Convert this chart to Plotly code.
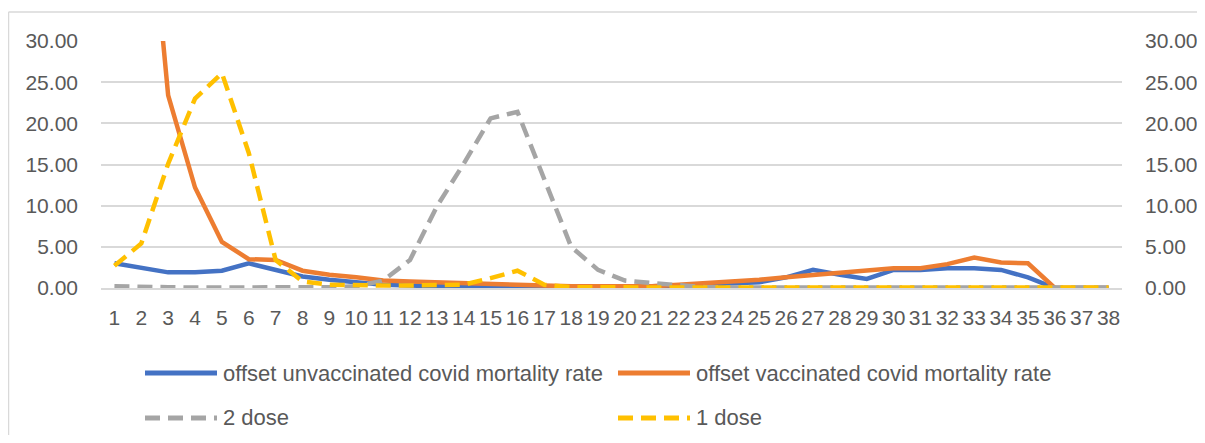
import plotly.graph_objects as go
from plotly.subplots import make_subplots

weeks = list(range(1, 39))

unvaccinated = [3.0, 2.4, 1.9, 1.9, 2.1, 3.0, 2.2, 1.4, 1.0, 0.7, 0.4, 0.3, 0.2, 0.3, 0.1,
                0.1, 0.1, 0.15, 0.2, 0.2, 0.2, 0.3, 0.4, 0.6, 0.7, 1.3, 2.2, 1.6, 1.1, 2.2,
                2.2, 2.4, 2.4, 2.2, 1.3, 0.0, 0.0, 0.0]
vaccinated = [None, 58.0, 23.4, 12.2, 5.6, 3.5, 3.4, 2.1, 1.6, 1.3, 0.9, 0.8, 0.7, 0.6, 0.5,
              0.3, 0.2, 0.2, 0.2, 0.2, 0.2, 0.4, 0.6, 0.7, 1.0, 1.3, 1.6, 1.9, 2.1, 2.4,
              2.4, 2.9, 3.7, 3.1, 3.0, 0.0, 0.0, 0.0]
dose2 = [0.2, 0.2, 0.1, 0.05, 0.05, 0.05, 0.05, 0.1, 0.1, 0.2, 0.9, 3.4, 9.9, 15.1, 20.6,
         21.4, 13.1, 5.0, 2.2, 0.9, 0.6, 0.3, 0.1, 0.05, 0.05, 0.05, 0.05, 0.05, 0.05, 0.05,
         0.05, 0.05, 0.05, 0.05, 0.05, 0.05, 0.05, 0.05]
dose1 = [2.7, 5.4, 15.1, 23.0, 26.1, 16.4, 3.4, 0.8, 0.4, 0.3, 0.3, 0.3, 0.3, 0.4, 1.2,
         2.1, 0.4, 0.1, 0.1, 0.05, 0.05, 0.05, 0.05, 0.05, 0.05, 0.05, 0.05, 0.05, 0.05, 0.05,
         0.05, 0.05, 0.05, 0.05, 0.05, 0.05, 0.05, 0.05]

names = ['offset unvaccinated covid mortality rate', 'offset vaccinated covid mortality rate',
         '2 dose', '1 dose']
colors = ['#4472C4', '#ED7D31', '#A5A5A5', '#FFC000']

# page body has an 8px margin, so the figure is shifted by that much
O = 8
W, H = 1205 - O, 443 - 2 * O
L, R, T, B = 101 - O, 1122 - O, 41 - O, 288 - O
FONT = 'Liberation Sans'
GREY_TXT = '#595959'
GRID = '#D9D9D9'
DASH = '15px,8px'

fig = make_subplots(specs=[[{"secondary_y": True}]])

fig.add_trace(go.Scatter(x=weeks, y=unvaccinated, name=names[0], mode='lines',
                         line=dict(color=colors[0], width=4.5), showlegend=False),
              secondary_y=False)
fig.add_trace(go.Scatter(x=weeks, y=vaccinated, name=names[1], mode='lines',
                         line=dict(color=colors[1], width=4.5), showlegend=False),
              secondary_y=False)
fig.add_trace(go.Scatter(x=weeks, y=dose2, name=names[2], mode='lines',
                         line=dict(color=colors[2], width=4.5, dash=DASH), showlegend=False),
              secondary_y=True)
fig.add_trace(go.Scatter(x=weeks, y=dose1, name=names[3], mode='lines',
                         line=dict(color=colors[3], width=4.5, dash=DASH), showlegend=False),
              secondary_y=True)


def px_x(p):
    # page pixel -> paper coordinate
    return (p - O - L) / (R - L)


def px_y(p):
    return (B - (p - O)) / (B - T)


# legend drawn by hand (two columns, two rows)
leg = [(145, 373, 0), (618, 373, 1), (145, 418, 2), (618, 418, 3)]
for x0, y0, i in leg:
    fig.add_shape(type='line', xref='paper', yref='paper',
                  x0=px_x(x0), x1=px_x(x0 + 72), y0=px_y(y0), y1=px_y(y0),
                  line=dict(color=colors[i], width=5, dash='solid' if i < 2 else DASH))
    fig.add_annotation(text=names[i], xref='paper', yref='paper', x=px_x(x0 + 76), y=px_y(y0),
                       xanchor='left', yanchor='middle', showarrow=False,
                       font=dict(family=FONT, size=22, color=GREY_TXT))

# chart area border: only the left and top edges are inside the crop
fig.add_shape(type='line', xref='paper', yref='paper',
              x0=px_x(8.5), x1=px_x(1260), y0=px_y(12), y1=px_y(12),
              line=dict(color=GRID, width=1.5), layer='below')
fig.add_shape(type='line', xref='paper', yref='paper',
              x0=px_x(8.5), x1=px_x(8.5), y0=px_y(12), y1=px_y(480),
              line=dict(color=GRID, width=1.5), layer='below')

yax = dict(range=[0, 30], dtick=5, tickformat='.2f', showgrid=True, gridcolor=GRID,
           gridwidth=1.5, zeroline=False, showline=False, ticks='', automargin=False,
           ticklabelstandoff=22, tickfont=dict(family=FONT, size=21, color=GREY_TXT))

fig.update_layout(
    width=W, height=H, autosize=False,
    margin=dict(l=L, r=W - R, t=T, b=H - B, pad=0),
    paper_bgcolor='white', plot_bgcolor='white',
    font=dict(family=FONT, color=GREY_TXT),
    xaxis=dict(domain=[0, 1], range=[0.5, 38.5], tickmode='linear', dtick=1, showgrid=False,
               zeroline=False, showline=True, linecolor=GRID, linewidth=1.5,
               ticks='', ticklabelstandoff=10, tickangle=0, automargin=False,
               tickfont=dict(family=FONT, size=21, color=GREY_TXT)),
    yaxis=yax,
    yaxis2=dict(yax, showgrid=False),
)

fig.write_html("out.html")
